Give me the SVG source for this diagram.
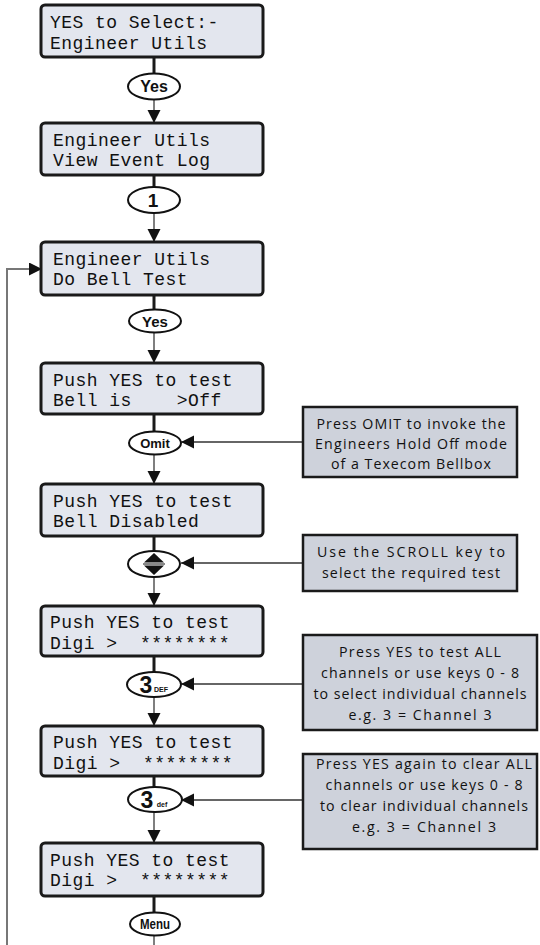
<svg xmlns="http://www.w3.org/2000/svg" width="540" height="945" viewBox="0 0 540 945">
<defs>
<style>
.lcd{fill:#e3e6ee;stroke:#1a1a1a;stroke-width:3}
.lt{font-family:"Liberation Mono","DejaVu Sans Mono",monospace;font-size:18px;letter-spacing:0.45px;fill:#111;white-space:pre}
.key{fill:#fff;stroke:#111;stroke-width:2}
.kt{font-family:"Liberation Sans",Arial,sans-serif;font-weight:bold;fill:#111;text-anchor:middle}
.note{fill:#ced2db;stroke:#1a1a1a;stroke-width:2.5}
.nt{font-family:"Open Sans","Liberation Sans",sans-serif;font-size:14.2px;fill:#111;text-anchor:middle}
.thick{stroke:#1a1a1a;stroke-width:3;fill:none}
.thin{stroke:#555;stroke-width:1.5;fill:none}
.side{stroke:#333;stroke-width:1.5;fill:none}
.loop{stroke:#777;stroke-width:2;fill:none}
</style>
<marker id="ah" markerUnits="userSpaceOnUse" markerWidth="14" markerHeight="14" refX="13" refY="6.5" orient="auto">
<path d="M0,0 L13,6.5 L0,13 Z" fill="#111"/>
</marker>
</defs>
<rect width="540" height="945" fill="#fff"/>

<g id="connectors">
<path class="thick" d="M154,57 V73.5"/>
<path class="thin" d="M154,99.5 V123" marker-end="url(#ah)"/>
<path class="thick" d="M154,175 V187"/>
<path class="thin" d="M154,213 V242" marker-end="url(#ah)"/>
<path class="thick" d="M154,295 V309.5"/>
<path class="thin" d="M154,332.5 V363" marker-end="url(#ah)"/>
<path class="thick" d="M154,414 V431.5"/>
<path class="thin" d="M154,454.5 V484" marker-end="url(#ah)"/>
<path class="thick" d="M154,536 V551"/>
<path class="thin" d="M154,577 V606" marker-end="url(#ah)"/>
<path class="thick" d="M154,656 V672"/>
<path class="thin" d="M154,697 V726" marker-end="url(#ah)"/>
<path class="thick" d="M154,776 V787"/>
<path class="thin" d="M154,812 V843" marker-end="url(#ah)"/>
<path class="thick" d="M154,896 V912.5"/>
<path class="thin" d="M154,935.5 V945"/>
<path class="side" d="M303,442 H181" marker-end="url(#ah)"/>
<path class="side" d="M303,563 H181" marker-end="url(#ah)"/>
<path class="side" d="M303,684 H181" marker-end="url(#ah)"/>
<path class="side" d="M303,800 H181" marker-end="url(#ah)"/>
<path class="loop" d="M7,945 V269 H42" marker-end="url(#ah)"/>
</g>

<g id="lcd1"><rect class="lcd" x="41" y="5" width="222" height="52" rx="4"/>
<text class="lt" x="50" y="28" xml:space="preserve">YES to Select:-</text><text class="lt" x="50" y="48.5" xml:space="preserve">Engineer Utils</text></g>
<g id="key-yes1"><ellipse class="key" cx="154" cy="86.5" rx="26" ry="13"/><text class="kt" x="154" y="92" font-size="16">Yes</text></g>

<g id="lcd2"><rect class="lcd" x="41" y="123" width="222" height="52" rx="4"/>
<text class="lt" x="53" y="145.5" xml:space="preserve">Engineer Utils</text><text class="lt" x="53" y="166" xml:space="preserve">View Event Log</text></g>
<g id="key-1"><ellipse class="key" cx="154" cy="200" rx="26" ry="13"/><text class="kt" x="153" y="207" font-size="19">1</text></g>

<g id="lcd3"><rect class="lcd" x="41" y="242" width="222" height="53" rx="4"/>
<text class="lt" x="53" y="264.5" xml:space="preserve">Engineer Utils</text><text class="lt" x="53" y="285" xml:space="preserve">Do Bell Test</text></g>
<g id="key-yes2"><ellipse class="key" cx="155" cy="321" rx="26" ry="11.5"/><text class="kt" x="155" y="326.5" font-size="15">Yes</text></g>

<g id="lcd4"><rect class="lcd" x="41" y="363" width="222" height="51" rx="4"/>
<text class="lt" x="53" y="385.5" xml:space="preserve">Push YES to test</text><text class="lt" x="53" y="406" xml:space="preserve">Bell is    &gt;Off</text></g>
<g id="key-omit"><ellipse class="key" cx="155" cy="443" rx="26" ry="11.5"/><text class="kt" x="155" y="447.5" font-size="13">Omit</text></g>
<g id="note-omit"><rect class="note" x="303" y="407" width="214" height="70"/>
<text class="nt" x="411" y="429" textLength="189" lengthAdjust="spacing">Press OMIT to invoke the</text>
<text class="nt" x="411" y="449" textLength="192" lengthAdjust="spacing">Engineers Hold Off mode</text>
<text class="nt" x="411" y="469" textLength="160" lengthAdjust="spacing">of a Texecom Bellbox</text></g>

<g id="lcd5"><rect class="lcd" x="41" y="484" width="222" height="52" rx="4"/>
<text class="lt" x="53" y="506.5" xml:space="preserve">Push YES to test</text><text class="lt" x="53" y="527" xml:space="preserve">Bell Disabled</text></g>
<g id="key-scroll"><ellipse class="key" cx="154" cy="564" rx="26" ry="13"/>
<path d="M144,562.5 L154,553 L164,562.5 Z" fill="#111"/><path d="M144,565.5 L154,575 L164,565.5 Z" fill="#111"/>
<path d="M143,564 H165" stroke="#111" stroke-width="1"/></g>
<g id="note-scroll"><rect class="note" x="303" y="535" width="214" height="56"/>
<text class="nt" x="411" y="557" textLength="188" lengthAdjust="spacing">Use the SCROLL key to</text>
<text class="nt" x="411" y="578" textLength="178" lengthAdjust="spacing">select the required test</text></g>

<g id="lcd6"><rect class="lcd" x="41" y="606" width="222" height="50" rx="4"/>
<text class="lt" x="50" y="628" xml:space="preserve">Push YES to test</text><text class="lt" x="50" y="648.5" xml:space="preserve">Digi &gt;  ********</text></g>
<g id="key-3DEF"><ellipse class="key" cx="154" cy="684.5" rx="27" ry="12.5"/>
<text class="kt" x="146" y="693" font-size="23">3</text><text class="kt" x="161" y="692" font-size="7">DEF</text></g>
<g id="note-test"><rect class="note" x="303" y="635" width="234" height="95"/>
<text class="nt" x="420" y="657" textLength="162" lengthAdjust="spacing">Press YES to test ALL</text>
<text class="nt" x="420" y="678" textLength="198" lengthAdjust="spacing">channels or use keys 0 - 8</text>
<text class="nt" x="420" y="699" textLength="213" lengthAdjust="spacing">to select individual channels</text>
<text class="nt" x="420" y="720" textLength="143" lengthAdjust="spacing">e.g. 3 = Channel 3</text></g>

<g id="lcd7"><rect class="lcd" x="41" y="726" width="222" height="50" rx="4"/>
<text class="lt" x="53" y="748" xml:space="preserve">Push YES to test</text><text class="lt" x="53" y="768.5" xml:space="preserve">Digi &gt;  ********</text></g>
<g id="key-3def"><ellipse class="key" cx="155" cy="799.5" rx="27" ry="12.5"/>
<text class="kt" x="147" y="808" font-size="23">3</text><text class="kt" x="162" y="807" font-size="7">def</text></g>
<g id="note-clear"><rect class="note" x="303" y="754" width="234" height="95"/>
<text class="nt" x="424" y="769" textLength="216" lengthAdjust="spacing">Press YES again to clear ALL</text>
<text class="nt" x="424" y="790" textLength="197" lengthAdjust="spacing">channels or use keys 0 - 8</text>
<text class="nt" x="424" y="811" textLength="208" lengthAdjust="spacing">to clear individual channels</text>
<text class="nt" x="424" y="832" textLength="144" lengthAdjust="spacing">e.g. 3 = Channel 3</text></g>

<g id="lcd8"><rect class="lcd" x="41" y="843" width="222" height="53" rx="4"/>
<text class="lt" x="50" y="865.5" xml:space="preserve">Push YES to test</text><text class="lt" x="50" y="886" xml:space="preserve">Digi &gt;  ********</text></g>
<g id="key-menu"><ellipse class="key" cx="155" cy="924" rx="25" ry="11.5"/><text class="kt" x="155" y="929" font-size="14" textLength="30" lengthAdjust="spacingAndGlyphs">Menu</text></g>
</svg>
